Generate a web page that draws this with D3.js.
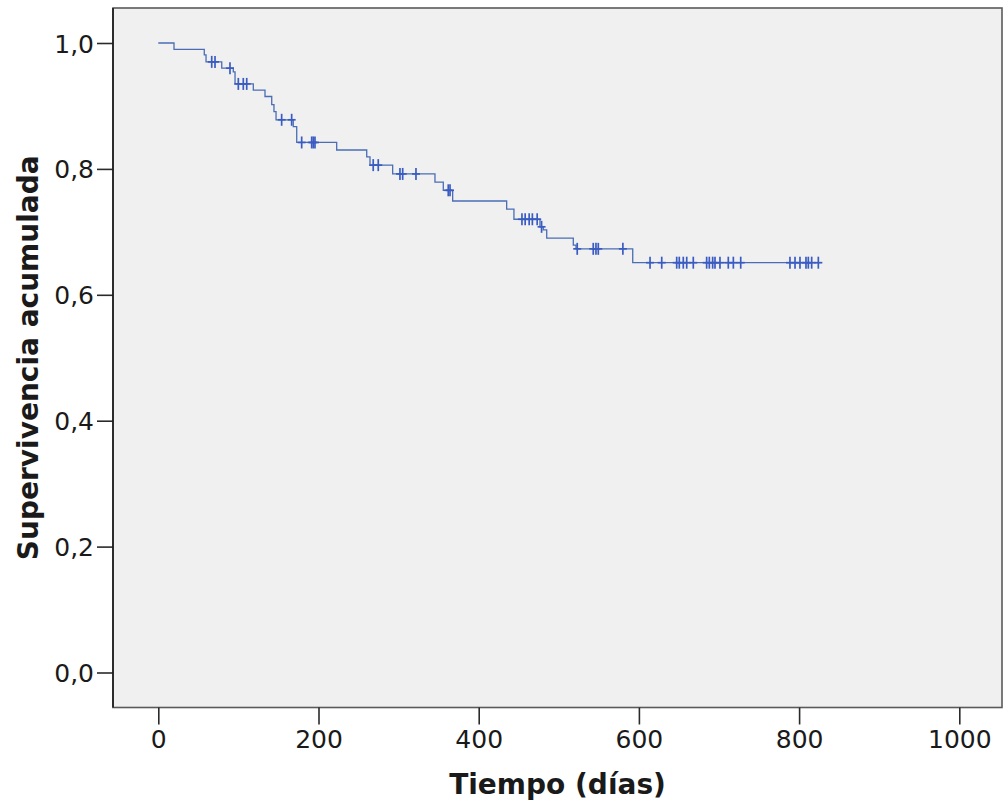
<!DOCTYPE html>
<html>
<head>
<meta charset="utf-8">
<script src="https://cdn.jsdelivr.net/npm/d3@7"></script>
<style>
  html, body { margin: 0; padding: 0; background: #ffffff; }
  svg { display: block; }
  text { font-family: "DejaVu Sans", "Noto Sans", sans-serif; fill: #1a1a1a; }
</style>
</head>
<body>
<svg id="chart" width="1003" height="808"></svg>
<script>
// ---- Data ----
const stepTimes = [0, 19.6, 57.4, 59.6, 79.2, 93.6, 95.8, 118.6, 133.2, 141.6, 144.4, 147, 168.5, 172.8,
  222.7, 260.2, 264.3, 292.6, 345.4, 355.8, 367.5, 434.9, 444, 476.5, 480.6, 484.9, 518.1, 521.5, 592.3];
const stepSurv = [1.0, 0.990, 0.981, 0.970, 0.960, 0.954, 0.935, 0.925, 0.915, 0.902, 0.891, 0.878, 0.867, 0.842,
  0.830, 0.819, 0.806, 0.792, 0.779, 0.766, 0.749, 0.736, 0.720, 0.708, 0.703, 0.690, 0.679, 0.673, 0.651];
const endTime = 826;

const censorTimes = [66.7, 70.8, 89.5, 99.9, 106.1, 110.4, 154, 166.5, 179, 191.5, 193.5, 195.6,
  268.3, 274.6, 301.7, 305.1, 321.7, 362, 364.2, 454, 458, 463, 467, 473, 478.5,
  523, 543, 546.4, 549.3, 580, 613.9, 628.5, 647.2, 650.4, 655.4, 659.7, 667.9, 684.6, 687.9,
  692.1, 695.0, 701.2, 711.6, 717.9, 727.1, 788.6, 794.9, 801.1, 808.6, 811.5, 815.7, 824.0];
const censorSurv = [0.970, 0.970, 0.960, 0.935, 0.935, 0.935, 0.878, 0.878, 0.842, 0.842, 0.842, 0.842,
  0.806, 0.806, 0.792, 0.792, 0.792, 0.766, 0.766, 0.720, 0.720, 0.720, 0.720, 0.720, 0.708,
  0.673, 0.673, 0.673, 0.673, 0.673, 0.651, 0.651, 0.651, 0.651, 0.651, 0.651, 0.651, 0.651, 0.651,
  0.651, 0.651, 0.651, 0.651, 0.651, 0.651, 0.651, 0.651, 0.651, 0.651, 0.651, 0.651, 0.651];

const xTicks = [0, 200, 400, 600, 800, 1000];
const yTicks = [0, 0.2, 0.4, 0.6, 0.8, 1.0];
const xTitle = "Tiempo (días)";
const yTitle = "Supervivencia acumulada";

// ---- Layout ----
const frame = { left: 113, right: 1002, top: 8, bottom: 707.5 };
const svg = d3.select("#chart");

const x = d3.scaleLinear().domain([0, 1000]).range([158.3, 959.3]);
const y = d3.scaleLinear().domain([0, 1]).range([672.5, 43]);

// plot background
svg.append("rect")
  .attr("x", frame.left).attr("y", frame.top)
  .attr("width", frame.right - frame.left).attr("height", frame.bottom - frame.top)
  .attr("fill", "#f0f0f0")
  .attr("stroke", "#5a5a5a").attr("stroke-width", 1.6);

// axes
const fmt = d => d3.format(".1f")(d).replace(".", ",");
const yAxis = svg.append("g")
  .attr("transform", `translate(${frame.left},0)`)
  .call(d3.axisLeft(y).tickValues(yTicks).tickFormat(fmt).tickSize(16).tickPadding(3));
const xAxis = svg.append("g")
  .attr("transform", `translate(0,${frame.bottom})`)
  .call(d3.axisBottom(x).tickValues(xTicks).tickFormat(d3.format("d")).tickSize(17).tickPadding(6));

[xAxis, yAxis].forEach(g => {
  g.select(".domain").remove();
  g.selectAll(".tick line").attr("stroke", "#2a2a2a").attr("stroke-width", 1.6);
  g.selectAll(".tick text").attr("font-size", 25).attr("fill", "#1a1a1a")
    .style("font-family", '"DejaVu Sans", sans-serif');
});
yAxis.selectAll(".tick text").attr("dy", "0.36em");

// left axis line (black)
svg.append("line")
  .attr("x1", frame.left).attr("x2", frame.left)
  .attr("y1", frame.top).attr("y2", frame.bottom)
  .attr("stroke", "#1a1a1a").attr("stroke-width", 1.6);

// survival step curve
const pts = stepTimes.map((t, i) => [t, stepSurv[i]]);
pts.push([endTime, stepSurv[stepSurv.length - 1]]);
const line = d3.line().x(d => x(d[0])).y(d => y(d[1])).curve(d3.curveStepAfter);
svg.append("path")
  .datum(pts)
  .attr("d", line)
  .attr("fill", "none")
  .attr("stroke", "#4a6db5")
  .attr("stroke-width", 1.3);

// censor marks
const cg = svg.append("g").attr("stroke", "#3a5cc2").attr("stroke-width", 1.7);
censorTimes.forEach((t, i) => {
  const cx = x(t), cy = y(censorSurv[i]);
  cg.append("line").attr("x1", cx).attr("x2", cx).attr("y1", cy - 6).attr("y2", cy + 6);
  cg.append("line").attr("x1", cx - 4).attr("x2", cx + 4).attr("y1", cy).attr("y2", cy);
});

// titles
const cxFrame = (frame.left + frame.right) / 2;
const cyFrame = (frame.top + frame.bottom) / 2;
svg.append("text")
  .attr("x", cxFrame).attr("y", 794)
  .attr("text-anchor", "middle")
  .attr("font-size", 28).attr("font-weight", "bold")
  .text(xTitle);
svg.append("text")
  .attr("transform", `translate(38,${cyFrame}) rotate(-90)`)
  .attr("text-anchor", "middle")
  .attr("font-size", 28).attr("font-weight", "bold")
  .text(yTitle);
</script>
</body>
</html>
